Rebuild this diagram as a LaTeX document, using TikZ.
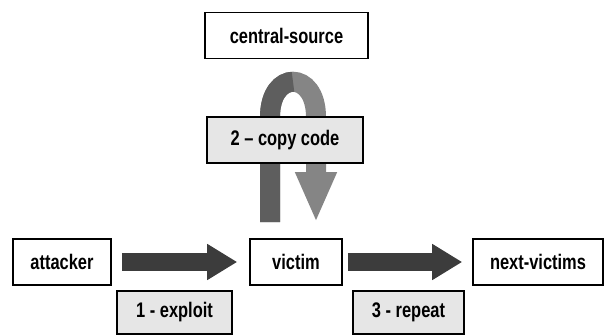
\documentclass[tikz,border=0pt]{standalone}
\usepackage{fontspec}
\newfontfamily\boxfont[FakeStretch=0.78,Ligatures=TeX]{Liberation Sans}
\usetikzlibrary{arrows.meta,calc}

\definecolor{arrowdark}{HTML}{3C3C3C}
\definecolor{loopdark}{HTML}{5E5E5E}
\definecolor{looplight}{HTML}{858585}
\definecolor{tagfill}{HTML}{E6E6E6}

\tikzset{
  item/.style={draw=black, line width=1.3pt, fill=white, inner sep=0pt,
    minimum height=1.38cm, font=\boxfont\bfseries\fontsize{18}{21}\selectfont},
  tag/.style={item, fill=tagfill, minimum height=1.29cm},
  bigarrow/.style={draw=arrowdark, line width=0.54cm,
    -{Triangle[length=0.9cm,width=1.02cm]}}
}

\begin{document}
\begin{tikzpicture}[x=0.03cm, y=-0.03cm]
        \useasboundingbox (0,0) rectangle (604,335);

        % boxes
        \node[item, minimum width=4.89cm] (central) at (286.5,35.5) {central-source};
        \node[item, minimum width=2.94cm] (attacker) at (62,262) {attacker};
        \node[item, minimum width=2.76cm] (victim) at (296,262) {victim};
        \node[item, minimum width=3.9cm] (next) at (538,262) {next-victims};

        % step arrows
        \draw[bigarrow] ($(attacker.east)+(10,0)$) -- ($(victim.west)+(-12,0)$);
        \draw[bigarrow] ($(victim.east)+(5,0)$) -- ($(next.west)+(-10,0)$);

        % loop to the source and back
        \coordinate (up) at ($(victim.north)+(-26,-16)$);
        \coordinate (down) at ($(victim.north)+(20,-16)$);
        \draw[looplight, line width=0.6cm, -{Triangle[length=1.5cm,width=1.14cm]}]
          (up) -- (270,117) .. controls (270,70) and (316,70) .. (316,117) -- (down);
        \draw[loopdark, line width=0.6cm]
          (up) -- (270,117) .. controls (270,93.5) and (281.5,81.75) .. (293,81.75);

        % step labels
        \node[tag, minimum width=4.68cm, minimum height=1.38cm] (copy) at (285,140) {2 -- copy code};
        \node[tag, minimum width=3.45cm] (exploit) at (174.5,312.5) {1 - exploit};
        \node[tag, minimum width=3.33cm] (repeat) at (408.5,312.5) {3 - repeat};
\end{tikzpicture}
\end{document}
